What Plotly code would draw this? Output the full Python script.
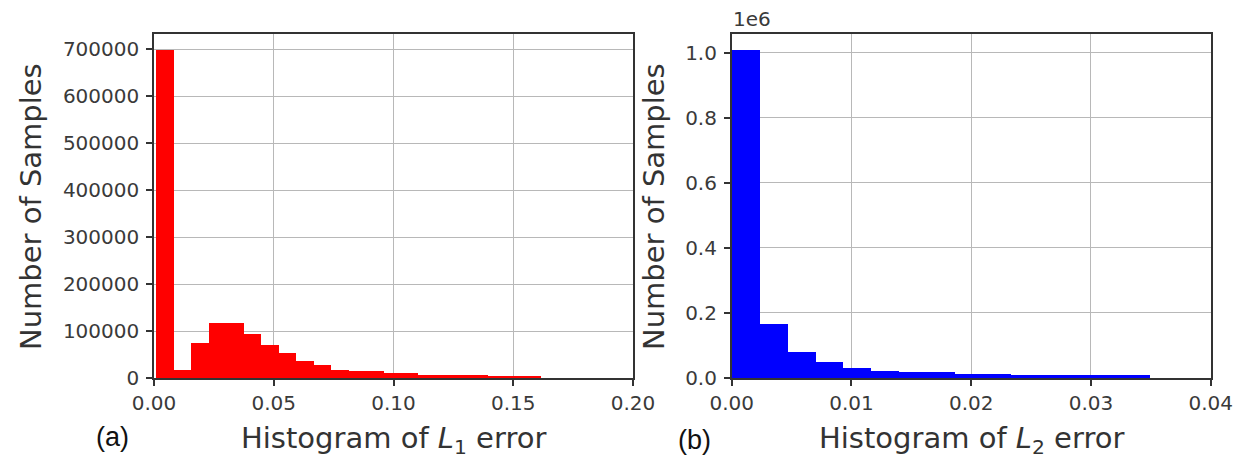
import numpy as np
import plotly.graph_objects as go

# Histogram of L1 error: 22 equal-width bins
l1_start = 0.001
l1_end = 0.1615
l1_counts = [698000, 18000, 75000, 118000, 118000, 93000, 71000, 53000,
             36500, 27500, 18000, 14000, 14000, 10000, 10000,
             7000, 6500, 6000, 5500, 5000, 5000, 4500]

# Histogram of L2 error: 15 equal-width bins
l2_start = 0.0
l2_end = 0.0349
l2_counts = [1008000, 165000, 80000, 48000, 30600, 23000, 18000, 17000,
             12000, 11000, 10000, 10000, 9000, 9000, 8000]

l1_xticks = [0.0, 0.05, 0.10, 0.15, 0.20]
l1_xtext = ["0.00", "0.05", "0.10", "0.15", "0.20"]
l1_yticks = [0, 100000, 200000, 300000, 400000, 500000, 600000, 700000]
l1_ytext = ["0", "100000", "200000", "300000", "400000", "500000", "600000", "700000"]

l2_xticks = [0.0, 0.01, 0.02, 0.03, 0.04]
l2_xtext = ["0.00", "0.01", "0.02", "0.03", "0.04"]
l2_yticks = [0, 200000, 400000, 600000, 800000, 1000000]
l2_ytext = ["0.0", "0.2", "0.4", "0.6", "0.8", "1.0"]


def bin_geometry(start, end, counts):
    edges = np.linspace(start, end, len(counts) + 1)
    centers = (edges[:-1] + edges[1:]) / 2
    widths = np.diff(edges)
    return centers, widths


W, H = 1239, 461
TICK_FONT = dict(family="DejaVu Sans", size=20, color="#3a3a3a")
TITLE_FONT = dict(family="DejaVu Sans", size=29, color="#333333")
SPINE = "#333333"
GRID = "#b8b8b8"

fig = go.Figure()

c1, w1 = bin_geometry(l1_start, l1_end, l1_counts)
fig.add_trace(go.Bar(x=c1, y=l1_counts, width=w1, marker=dict(color="#ff0000", line=dict(width=0)),
                     xaxis="x", yaxis="y", showlegend=False))
c2, w2 = bin_geometry(l2_start, l2_end, l2_counts)
fig.add_trace(go.Bar(x=c2, y=l2_counts, width=w2, marker=dict(color="#0000ff", line=dict(width=0)),
                     xaxis="x2", yaxis="y2", showlegend=False))


def px_x(p):
    return p / W


def px_y(p):
    return 1 - p / H


ydom = [px_y(378), px_y(34)]
axis_common = dict(showline=True, mirror=True, linecolor=SPINE, linewidth=1.5,
                   showgrid=True, gridcolor=GRID, gridwidth=1.2,
                   ticks="outside", ticklen=6, tickwidth=1.5, tickcolor=SPINE,
                   tickfont=TICK_FONT, zeroline=False, layer="above traces",
                   automargin=False)

fig.update_layout(
    width=W, height=H, autosize=False,
    margin=dict(l=0, r=0, t=0, b=0),
    paper_bgcolor="white", plot_bgcolor="white",
    bargap=0,
    xaxis=dict(domain=[px_x(154), px_x(633)], range=[0, 0.2], tickvals=l1_xticks,
               ticktext=l1_xtext, anchor="y", **axis_common),
    yaxis=dict(domain=ydom, range=[0, 733000], tickvals=l1_yticks, ticktext=l1_ytext,
               anchor="x", ticklabelstandoff=3, **axis_common),
    xaxis2=dict(domain=[px_x(731.7), px_x(1210.7)], range=[0, 0.04], tickvals=l2_xticks,
                ticktext=l2_xtext, anchor="y2", **axis_common),
    yaxis2=dict(domain=ydom, range=[0, 1058000], tickvals=l2_yticks, ticktext=l2_ytext,
                anchor="x2", ticklabelstandoff=3, **axis_common),
)

annotations = [
    dict(text="Number of Samples", x=px_x(31), y=px_y(207), textangle=-90, font=TITLE_FONT),
    dict(text="Number of Samples", x=px_x(654), y=px_y(207), textangle=-90, font=TITLE_FONT),
    dict(text="Histogram of <i>L</i><sub>1</sub> error", x=px_x(393.5), y=px_y(440), font=TITLE_FONT),
    dict(text="Histogram of <i>L</i><sub>2</sub> error", x=px_x(971), y=px_y(440), font=TITLE_FONT),
    dict(text="(a)", x=px_x(113), y=px_y(437),
         font=dict(family="Liberation Sans", size=27, color="#111111")),
    dict(text="(b)", x=px_x(694), y=px_y(440),
         font=dict(family="Liberation Sans", size=27, color="#111111")),
    dict(text="1e6", x=px_x(731), y=px_y(19), xanchor="left",
         font=dict(family="DejaVu Sans", size=20, color="#3a3a3a")),
]
for a in annotations:
    a.setdefault("xanchor", "center")
    fig.add_annotation(xref="paper", yref="paper", yanchor="middle", showarrow=False, **a)

fig.write_html("out.html")
